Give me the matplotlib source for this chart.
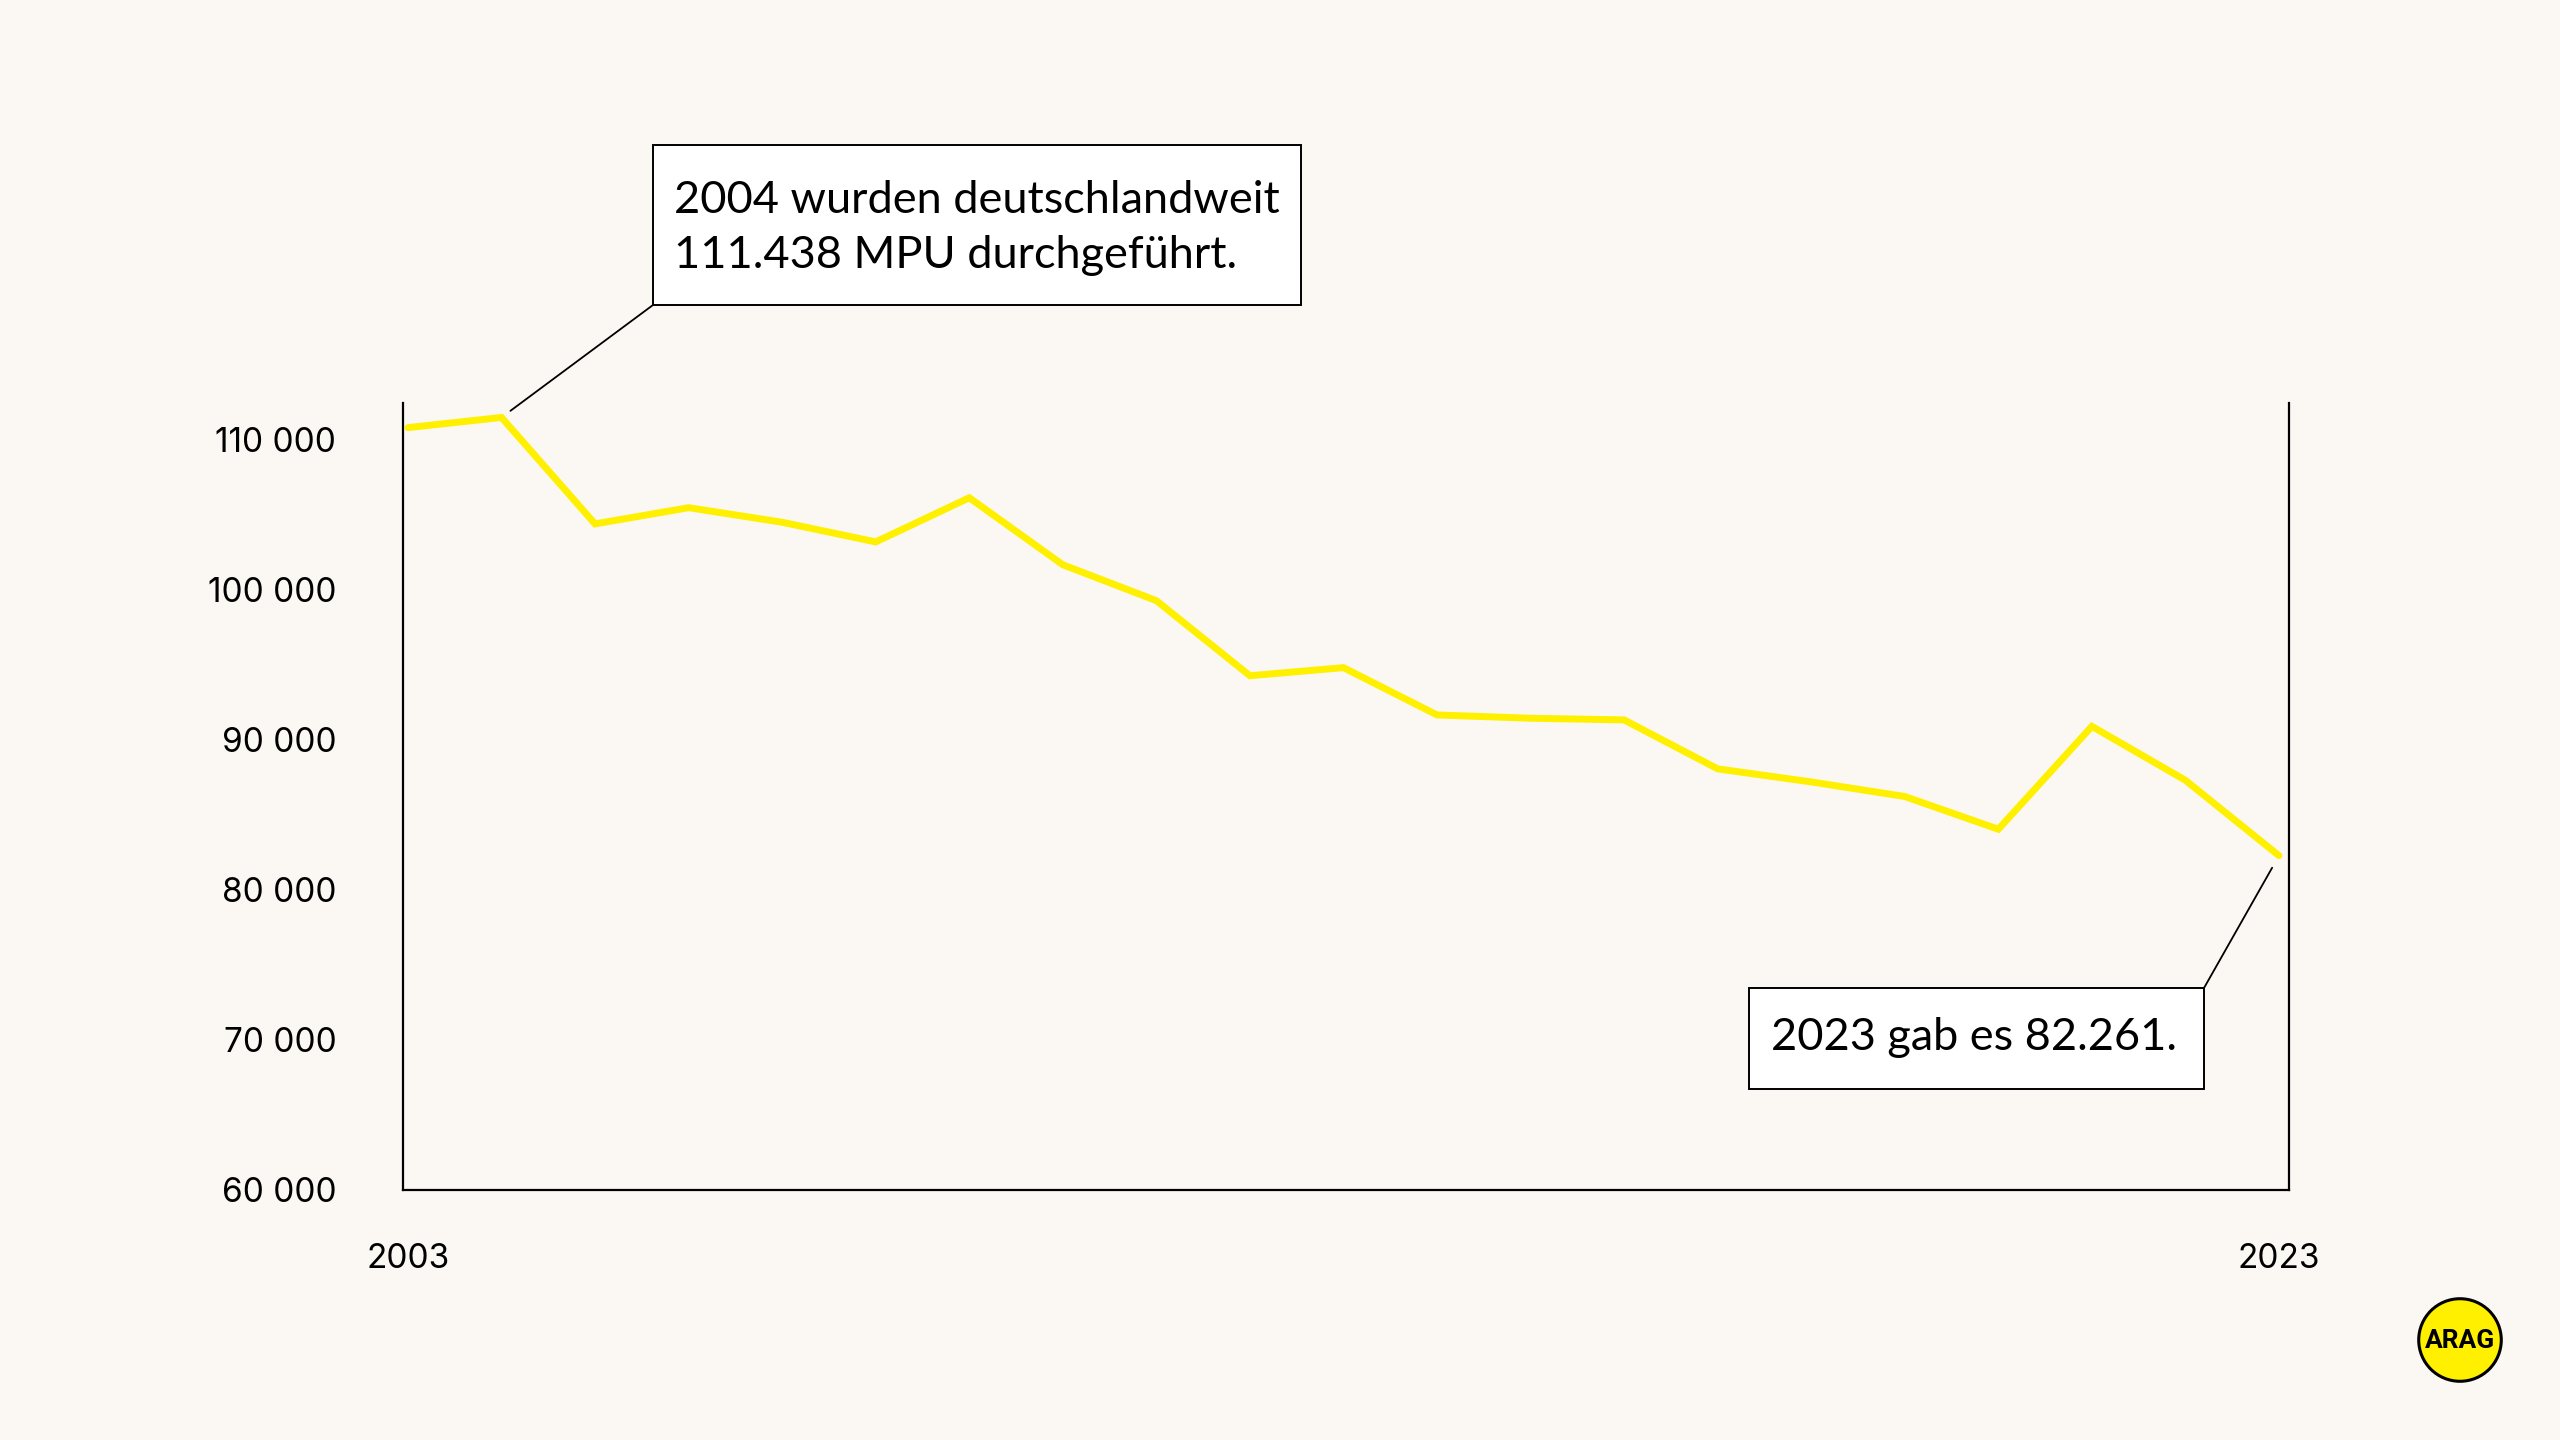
import matplotlib
matplotlib.use("Agg")
import matplotlib.pyplot as plt
from matplotlib.patches import Rectangle, Circle

# MPU per year (Germany)
years = list(range(2003, 2024))
mpu = [110760, 111438, 104350, 105430, 104460, 103150, 106090, 101630,
       99240, 94240, 94780, 91630, 91410, 91300, 88040, 87170, 86200,
       84020, 90870, 87280, 82261]

y_ticks = [60000, 70000, 80000, 90000, 100000, 110000]
y_tick_labels = ["60 000", "70 000", "80 000", "90 000", "100 000", "110 000"]
x_ticks = [2003, 2023]
x_tick_labels = ["2003", "2023"]

note_first = "2004 wurden deutschlandweit\n111.438 MPU durchgeführt."
note_last = "2023 gab es 82.261."

BG = "#FBF8F3"
YELLOW = "#FFF000"
W, H = 2560, 1440

plt.rcParams['font.family'] = ['Lato', 'DejaVu Sans']

fig = plt.figure(figsize=(25.6, 14.4), dpi=100, facecolor=BG)
ax = fig.add_axes([403 / W, 1 - 1190 / H, (2289 - 403) / W, (1190 - 403) / H])
ax.set_facecolor(BG)

ax.plot(years, mpu, color=YELLOW, linewidth=5, solid_joinstyle='miter',
        solid_capstyle='round', zorder=3)

ax.set_xlim(2002.947, 2023.107)
ax.set_ylim(60000, 112400)

ax.set_yticks(y_ticks)
ax.set_yticklabels(y_tick_labels, fontsize=24, family=['Inter', 'DejaVu Sans'])
ax.set_xticks(x_ticks)
ax.set_xticklabels(x_tick_labels, fontsize=24, family=['Inter', 'DejaVu Sans'])
ax.tick_params(axis='y', length=0, pad=48)
ax.tick_params(axis='x', length=0, pad=38)

for side in ['left', 'right', 'bottom']:
    ax.spines[side].set_linewidth(1.6)
    ax.spines[side].set_color('black')
ax.spines['top'].set_visible(False)


def note_box(x0, y0, x1, y1, text, tx, ty):
    """Box in figure pixels (top-left origin) with text inside."""
    fig.patches.append(Rectangle((x0 / W, 1 - y1 / H), (x1 - x0) / W, (y1 - y0) / H,
                                 transform=fig.transFigure, facecolor='white',
                                 edgecolor='black', linewidth=1.4, zorder=5))
    fig.text(tx / W, 1 - ty / H, text, fontsize=32.5, ha='left', va='center',
             linespacing=1.45, zorder=6)


note_box(653, 145, 1301, 305, note_first, 674, 228)
note_box(1749, 988, 2204, 1089, note_last, 1771, 1038)

# leader lines from the data points to the box corners
ax.annotate('', xy=(years[1], mpu[1]), xytext=(653 / W, 1 - 305 / H),
            textcoords='figure fraction',
            arrowprops=dict(arrowstyle='-', color='black', lw=1.3,
                            shrinkA=0, shrinkB=8))
ax.annotate('', xy=(years[-1], mpu[-1]), xytext=(2204 / W, 1 - 988 / H),
            textcoords='figure fraction',
            arrowprops=dict(arrowstyle='-', color='black', lw=1.3,
                            shrinkA=0, shrinkB=10))

# ARAG logo
lax = fig.add_axes([2417 / W, 1 - 1383 / H, 86 / W, 86 / H])
lax.set_xlim(0, 1)
lax.set_ylim(0, 1)
lax.set_aspect('equal')
lax.axis('off')
lax.add_patch(Circle((0.5, 0.5), 0.48, facecolor=YELLOW, edgecolor='black', linewidth=2.2))
lax.text(0.5, 0.49, "ARAG", ha='center', va='center', fontsize=19, fontweight='bold',
         family=['Roboto', 'DejaVu Sans'])

fig.savefig("out.png", dpi=100, facecolor=BG)
